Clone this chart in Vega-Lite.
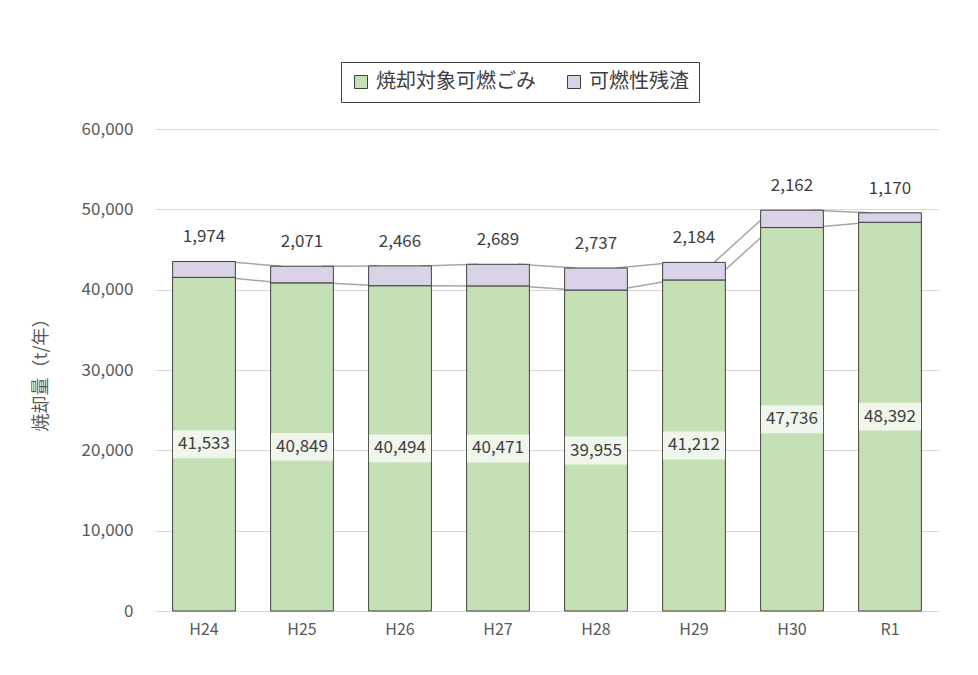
{
  "$schema": "https://vega.github.io/schema/vega-lite/v6.json",
  "width": 784,
  "height": 482,
  "autosize": "none",
  "padding": {"left": 155, "top": 129, "right": 39, "bottom": 64},
  "background": "white",
  "config": {
    "font": "Noto Sans CJK JP",
    "view": {"stroke": null}
  },
  "data": {
    "values": [
      {"year": "H24", "type": "焼却対象可燃ごみ", "value": 41533},
      {"year": "H24", "type": "可燃性残渣", "value": 1974},
      {"year": "H25", "type": "焼却対象可燃ごみ", "value": 40849},
      {"year": "H25", "type": "可燃性残渣", "value": 2071},
      {"year": "H26", "type": "焼却対象可燃ごみ", "value": 40494},
      {"year": "H26", "type": "可燃性残渣", "value": 2466},
      {"year": "H27", "type": "焼却対象可燃ごみ", "value": 40471},
      {"year": "H27", "type": "可燃性残渣", "value": 2689},
      {"year": "H28", "type": "焼却対象可燃ごみ", "value": 39955},
      {"year": "H28", "type": "可燃性残渣", "value": 2737},
      {"year": "H29", "type": "焼却対象可燃ごみ", "value": 41212},
      {"year": "H29", "type": "可燃性残渣", "value": 2184},
      {"year": "H30", "type": "焼却対象可燃ごみ", "value": 47736},
      {"year": "H30", "type": "可燃性残渣", "value": 2162},
      {"year": "R1", "type": "焼却対象可燃ごみ", "value": 48392},
      {"year": "R1", "type": "可燃性残渣", "value": 1170}
    ]
  },
  "transform": [
    {"stack": "value", "groupby": ["year"], "sort": [{"field": "type", "order": "descending"}], "as": ["v0", "v1"]}
  ],
  "layer": [
    {
      "transform": [
        {"window": [{"op": "lead", "field": "v1", "as": "nv1"}, {"op": "lead", "field": "year", "as": "nyear"}], "groupby": ["type"], "sort": [{"field": "year", "order": "ascending"}]},
        {"filter": "datum.nyear != null"}
      ],
      "mark": {"type": "rule", "color": "#A6A6A6", "strokeWidth": 1.5},
      "encoding": {
        "x": {
          "field": "year", "type": "nominal", "bandPosition": 0.82, "title": null,
          "scale": {"paddingInner": 0.36, "paddingOuter": 0.18},
          "axis": {"labelAngle": 0, "labelFontSize": 16, "labelLetterSpacing": 1.5, "labelColor": "#595959", "labelPadding": 10, "ticks": false, "domainColor": "#D9D9D9", "domainWidth": 1}
        },
        "x2": {"field": "nyear", "bandPosition": 0.18},
        "y": {
          "field": "v1", "type": "quantitative", "title": "焼却量（t/年）",
          "scale": {"domain": [0, 60000]},
          "axis": {"values": [0, 10000, 20000, 30000, 40000, 50000, 60000], "labelExpr": "format(datum.value, ',')", "labelFontSize": 17, "labelColor": "#595959", "labelPadding": 22, "ticks": false, "domain": false, "gridColor": "#D9D9D9", "titleFontSize": 18, "titleFontWeight": "normal", "titleColor": "#595959", "titlePadding": 31}
        },
        "y2": {"field": "nv1"}
      }
    },
    {
      "mark": {"type": "bar", "stroke": "#404040", "strokeWidth": 1},
      "encoding": {
        "x": {"field": "year", "type": "nominal"},
        "y": {"field": "v1", "type": "quantitative"},
        "y2": {"field": "v0"},
        "color": {
          "field": "type", "type": "nominal", "sort": ["焼却対象可燃ごみ", "可燃性残渣"],
          "scale": {"domain": ["焼却対象可燃ごみ", "可燃性残渣"], "range": ["#C5E0B4", "#DAD2E6"]},
          "legend": {
            "title": null, "orient": "none", "legendX": 186, "legendY": -67, "direction": "horizontal",
            "symbolType": "square", "symbolSize": 169, "symbolStrokeColor": "#404040", "symbolStrokeWidth": 1,
            "labelFontSize": 20, "labelColor": "#404040", "labelOffset": 5, "columnPadding": 28, "padding": 10, "labelLimit": 300,
            "strokeColor": "#404040", "fillColor": "white"
          }
        }
      }
    },
    {
      "transform": [
        {"filter": "datum.type === '焼却対象可燃ごみ'"},
        {"fold": ["v0", "v1"], "as": ["k", "pos"]},
        {"aggregate": [{"op": "mean", "field": "pos", "as": "mid"}], "groupby": ["year", "value"]}
      ],
      "mark": {"type": "point", "shape": "M-1,-0.45L1,-0.45L1,0.45L-1,0.45Z", "size": 3844, "filled": true, "fill": "#F0F6EC", "opacity": 1, "strokeWidth": 0},
      "encoding": {
        "x": {"field": "year", "type": "nominal"},
        "y": {"field": "mid", "type": "quantitative"}
      }
    },
    {
      "transform": [
        {"filter": "datum.type === '焼却対象可燃ごみ'"},
        {"fold": ["v0", "v1"], "as": ["k", "pos"]},
        {"aggregate": [{"op": "mean", "field": "pos", "as": "mid"}], "groupby": ["year", "value"]}
      ],
      "mark": {"type": "text", "fontSize": 17, "color": "#404040", "baseline": "middle"},
      "encoding": {
        "x": {"field": "year", "type": "nominal"},
        "y": {"field": "mid", "type": "quantitative"},
        "text": {"field": "value", "type": "quantitative", "format": ","}
      }
    },
    {
      "transform": [{"filter": "datum.type === '可燃性残渣'"}],
      "mark": {"type": "text", "fontSize": 17, "color": "#404040", "baseline": "middle", "dy": -24},
      "encoding": {
        "x": {"field": "year", "type": "nominal"},
        "y": {"field": "v1", "type": "quantitative"},
        "text": {"field": "value", "type": "quantitative", "format": ","}
      }
    }
  ]
}
